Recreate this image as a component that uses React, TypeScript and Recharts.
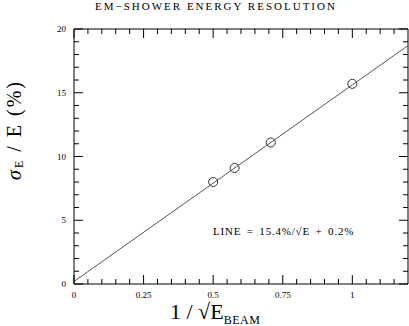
import React from 'react';
import { ComposedChart, Line, Scatter, XAxis, YAxis } from 'recharts';

// measured points: 1/sqrt(E) vs sigma_E/E (%)
const invSqrtE = [0.5, 0.577, 0.707, 1.0];
const resolution = [8.0, 9.1, 11.1, 15.7];

// fit line endpoints
const fitX = [0, 1.2];
const fitY = [0.2, 18.7];

const xLabelTicks = [0, 0.25, 0.5, 0.75, 1];
const xMinorTicks = [0.05, 0.1, 0.15, 0.2, 0.3, 0.35, 0.4, 0.45, 0.55, 0.6, 0.65, 0.7, 0.8, 0.85, 0.9, 0.95, 1.05, 1.1, 1.15];
const yLabelTicks = [0, 5, 10, 15, 20];
const yMinorTicks = [1, 2, 3, 4, 6, 7, 8, 9, 11, 12, 13, 14, 16, 17, 18, 19];

const title = 'EM−SHOWER ENERGY RESOLUTION';
const fitText = 'LINE = 15.4%/√E + 0.2%';

const X_MIN = 0;
const X_MAX = 1.2;
const Y_MIN = 0;
const Y_MAX = 20;

const points = invSqrtE.map((x, i) => ({ x, y: resolution[i] }));
const fitLine = fitX.map((x, i) => ({ x, y: fitY[i] }));

// frame edges and tick anchors on all four sides
const frameTop = [{ x: X_MIN, y: Y_MAX }, { x: X_MAX, y: Y_MAX }];
const frameRight = [{ x: X_MAX, y: Y_MIN }, { x: X_MAX, y: Y_MAX }];
const bottomMajor = xLabelTicks.map((x) => ({ x, y: Y_MIN }));
const bottomMinor = xMinorTicks.map((x) => ({ x, y: Y_MIN }));
const topMajor = xLabelTicks.map((x) => ({ x, y: Y_MAX }));
const topMinor = xMinorTicks.map((x) => ({ x, y: Y_MAX }));
const leftMajor = yLabelTicks.map((y) => ({ x: X_MIN, y }));
const leftMinor = yMinorTicks.map((y) => ({ x: X_MIN, y }));
const rightMajor = yLabelTicks.map((y) => ({ x: X_MAX, y }));
const rightMinor = yMinorTicks.map((y) => ({ x: X_MAX, y }));

const FONT = '"Liberation Serif", "DejaVu Serif", serif';
const INK = '#000';

const tickUp = (len: number) => (p: any) => (
  <line x1={p.cx} y1={p.cy} x2={p.cx} y2={p.cy - len} stroke={INK} strokeWidth={1} />
);
const tickDown = (len: number) => (p: any) => (
  <line x1={p.cx} y1={p.cy} x2={p.cx} y2={p.cy + len} stroke={INK} strokeWidth={1} />
);
const tickRight = (len: number) => (p: any) => (
  <line x1={p.cx} y1={p.cy} x2={p.cx + len} y2={p.cy} stroke={INK} strokeWidth={1} />
);
const tickLeft = (len: number) => (p: any) => (
  <line x1={p.cx} y1={p.cy} x2={p.cx - len} y2={p.cy} stroke={INK} strokeWidth={1} />
);

// x title, chart title and fit note, placed from the bottom axis box
const xTitle = (props: any) => {
  const vb = props.viewBox || { x: 74, y: 284, width: 334, height: 42 };
  return (
    <g>
      <text x={vb.x + 96} y={vb.y + 35} fontSize={22} fontFamily={FONT} fill="#000">
        1 / √E
        <tspan fontSize={12} dy={5} letterSpacing={0.5}>BEAM</tspan>
      </text>
      <text x={vb.x + 21} y={vb.y - 274} fontSize={11} letterSpacing={2} fontFamily={FONT} fill="#000">
        {title}
      </text>
      <text x={vb.x + 139} y={vb.y - 49} fontSize={11} letterSpacing={0.8} wordSpacing={2} fontFamily={FONT} fill="#000">
        {fitText}
      </text>
    </g>
  );
};

const yTitle = (props: any) => {
  const vb = props.viewBox || { x: 0, y: 29, width: 74, height: 255 };
  const cx = vb.x + 14;
  const cy = vb.y + 101;
  return (
    <text
      x={cx}
      y={cy}
      transform={`rotate(-90, ${cx}, ${cy})`}
      textAnchor="middle"
      dominantBaseline="central"
      fontSize={20}
      letterSpacing={2}
      fontFamily={FONT}
      fill="#000"
    >
      <tspan fontStyle="italic">σ</tspan>
      <tspan fontSize={12} dy={5}>E</tspan>
      <tspan dy={-5}> / E (%)</tspan>
    </text>
  );
};

export default function App() {
  return (
    <div style={{ position: 'absolute', left: 0, top: 0 }}>
      <ComposedChart width={409} height={326} margin={{ top: 29, right: 1, bottom: 0, left: 0 }}>
        <XAxis
          type="number"
          dataKey="x"
          domain={[X_MIN, X_MAX]}
          ticks={xLabelTicks}
          tickLine={false}
          height={42}
          stroke={INK}
          tick={{ fontSize: 9, fill: '#000', fontFamily: FONT }}
          label={xTitle}
        />
        <YAxis
          type="number"
          dataKey="y"
          domain={[Y_MIN, Y_MAX]}
          ticks={yLabelTicks}
          tickLine={false}
          width={74}
          stroke={INK}
          tick={{ fontSize: 9, fill: '#000', fontFamily: FONT }}
          label={yTitle}
        />
        <Line data={frameTop} dataKey="y" stroke={INK} strokeWidth={1} dot={false} activeDot={false} isAnimationActive={false} />
        <Line data={frameRight} dataKey="y" stroke={INK} strokeWidth={1} dot={false} activeDot={false} isAnimationActive={false} />
        <Scatter data={bottomMajor} dataKey="y" shape={tickUp(9)} isAnimationActive={false} />
        <Scatter data={bottomMinor} dataKey="y" shape={tickUp(5)} isAnimationActive={false} />
        <Scatter data={topMajor} dataKey="y" shape={tickDown(9)} isAnimationActive={false} />
        <Scatter data={topMinor} dataKey="y" shape={tickDown(5)} isAnimationActive={false} />
        <Scatter data={leftMajor} dataKey="y" shape={tickRight(9)} isAnimationActive={false} />
        <Scatter data={leftMinor} dataKey="y" shape={tickRight(5)} isAnimationActive={false} />
        <Scatter data={rightMajor} dataKey="y" shape={tickLeft(9)} isAnimationActive={false} />
        <Scatter data={rightMinor} dataKey="y" shape={tickLeft(5)} isAnimationActive={false} />
        <Line
          data={fitLine}
          dataKey="y"
          stroke="#555"
          strokeWidth={1}
          dot={false}
          activeDot={false}
          isAnimationActive={false}
        />
        <Scatter data={points} dataKey="y" fill="none" stroke="#333" isAnimationActive={false} />
      </ComposedChart>
    </div>
  );
}
